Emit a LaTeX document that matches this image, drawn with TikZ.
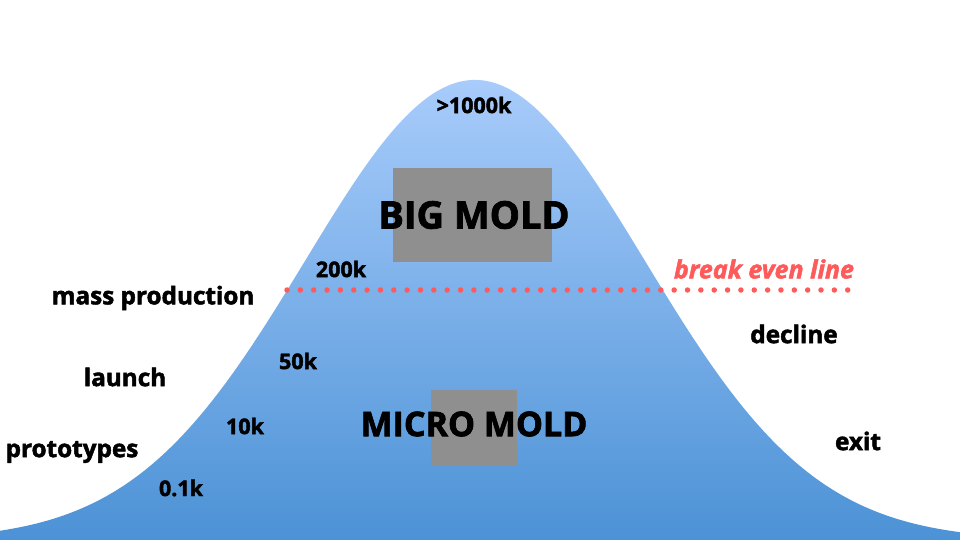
\documentclass[tikz,border=0pt]{standalone}
\usepackage{fontspec}
\setmainfont{Open Sans}[BoldFeatures={FakeBold=2},BoldItalicFeatures={FakeBold=2}]
\definecolor{topblue}{RGB}{168,204,251}
\definecolor{botblue}{RGB}{76,146,214}
\definecolor{moldgray}{RGB}{143,143,143}
\definecolor{bered}{RGB}{255,90,90}
\tikzset{
  lbl/.style={font=\fontsize{24.3}{28}\selectfont\bfseries, text=black, inner sep=0pt},
  num/.style={font=\fontsize{21.5}{26}\selectfont\bfseries, text=black, inner sep=0pt},
  big/.style={font=\fontsize{34}{38}\selectfont\bfseries, text=black, inner sep=0pt},
  mold/.style={fill=moldgray, draw=none},
  beline/.style={draw=bered, line width=5.5pt, line cap=round, dash pattern=on 0pt off 13.35pt},
}
\begin{document}
\begin{tikzpicture}[x=1pt,y=-1pt]
\useasboundingbox (0,0) rectangle (960,540);
% bell curve
\shade[top color=topblue, bottom color=botblue, draw=none]
  plot[domain=0:960, samples=241, smooth] (\x,{540-460*exp(-0.5*((\x-475)/170)^2)}) -- (960,540) -- (0,540) -- cycle;
% molds
\fill[mold] (393,168) rectangle (552,262);
\fill[mold] (431,390) rectangle (517,465);
% break even line
\coordinate (bel) at (287,290);
\coordinate (ber) at (848,290);
\draw[beline] (bel) -- (ber);
% labels
\node[num] (top) at (474,105) {>1000k};
\node[big, font=\fontsize{38}{42}\selectfont\bfseries] (bigmold) at (474,215) {BIG MOLD};
\node[num] (k200) at (341,269) {200k};
\node[lbl] (mass) at (153,298) {mass production};
\node[font=\fontsize{25}{30}\selectfont\bfseries\itshape, text=bered, inner sep=0pt] (be) at (764,269) {break even line};
\node[lbl] (decline) at (794,334) {decline};
\node[lbl] (launch) at (125,377) {launch};
\node[num] (k50) at (298,361) {50k};
\node[num] (k10) at (245,426) {10k};
\node[big] (micromold) at (474,424) {MICRO MOLD};
\node[lbl] (proto) at (72,452) {prototypes};
\node[num] (k01) at (181,488) {0.1k};
\node[lbl] (exit) at (858,441) {exit};
\end{tikzpicture}
\end{document}
